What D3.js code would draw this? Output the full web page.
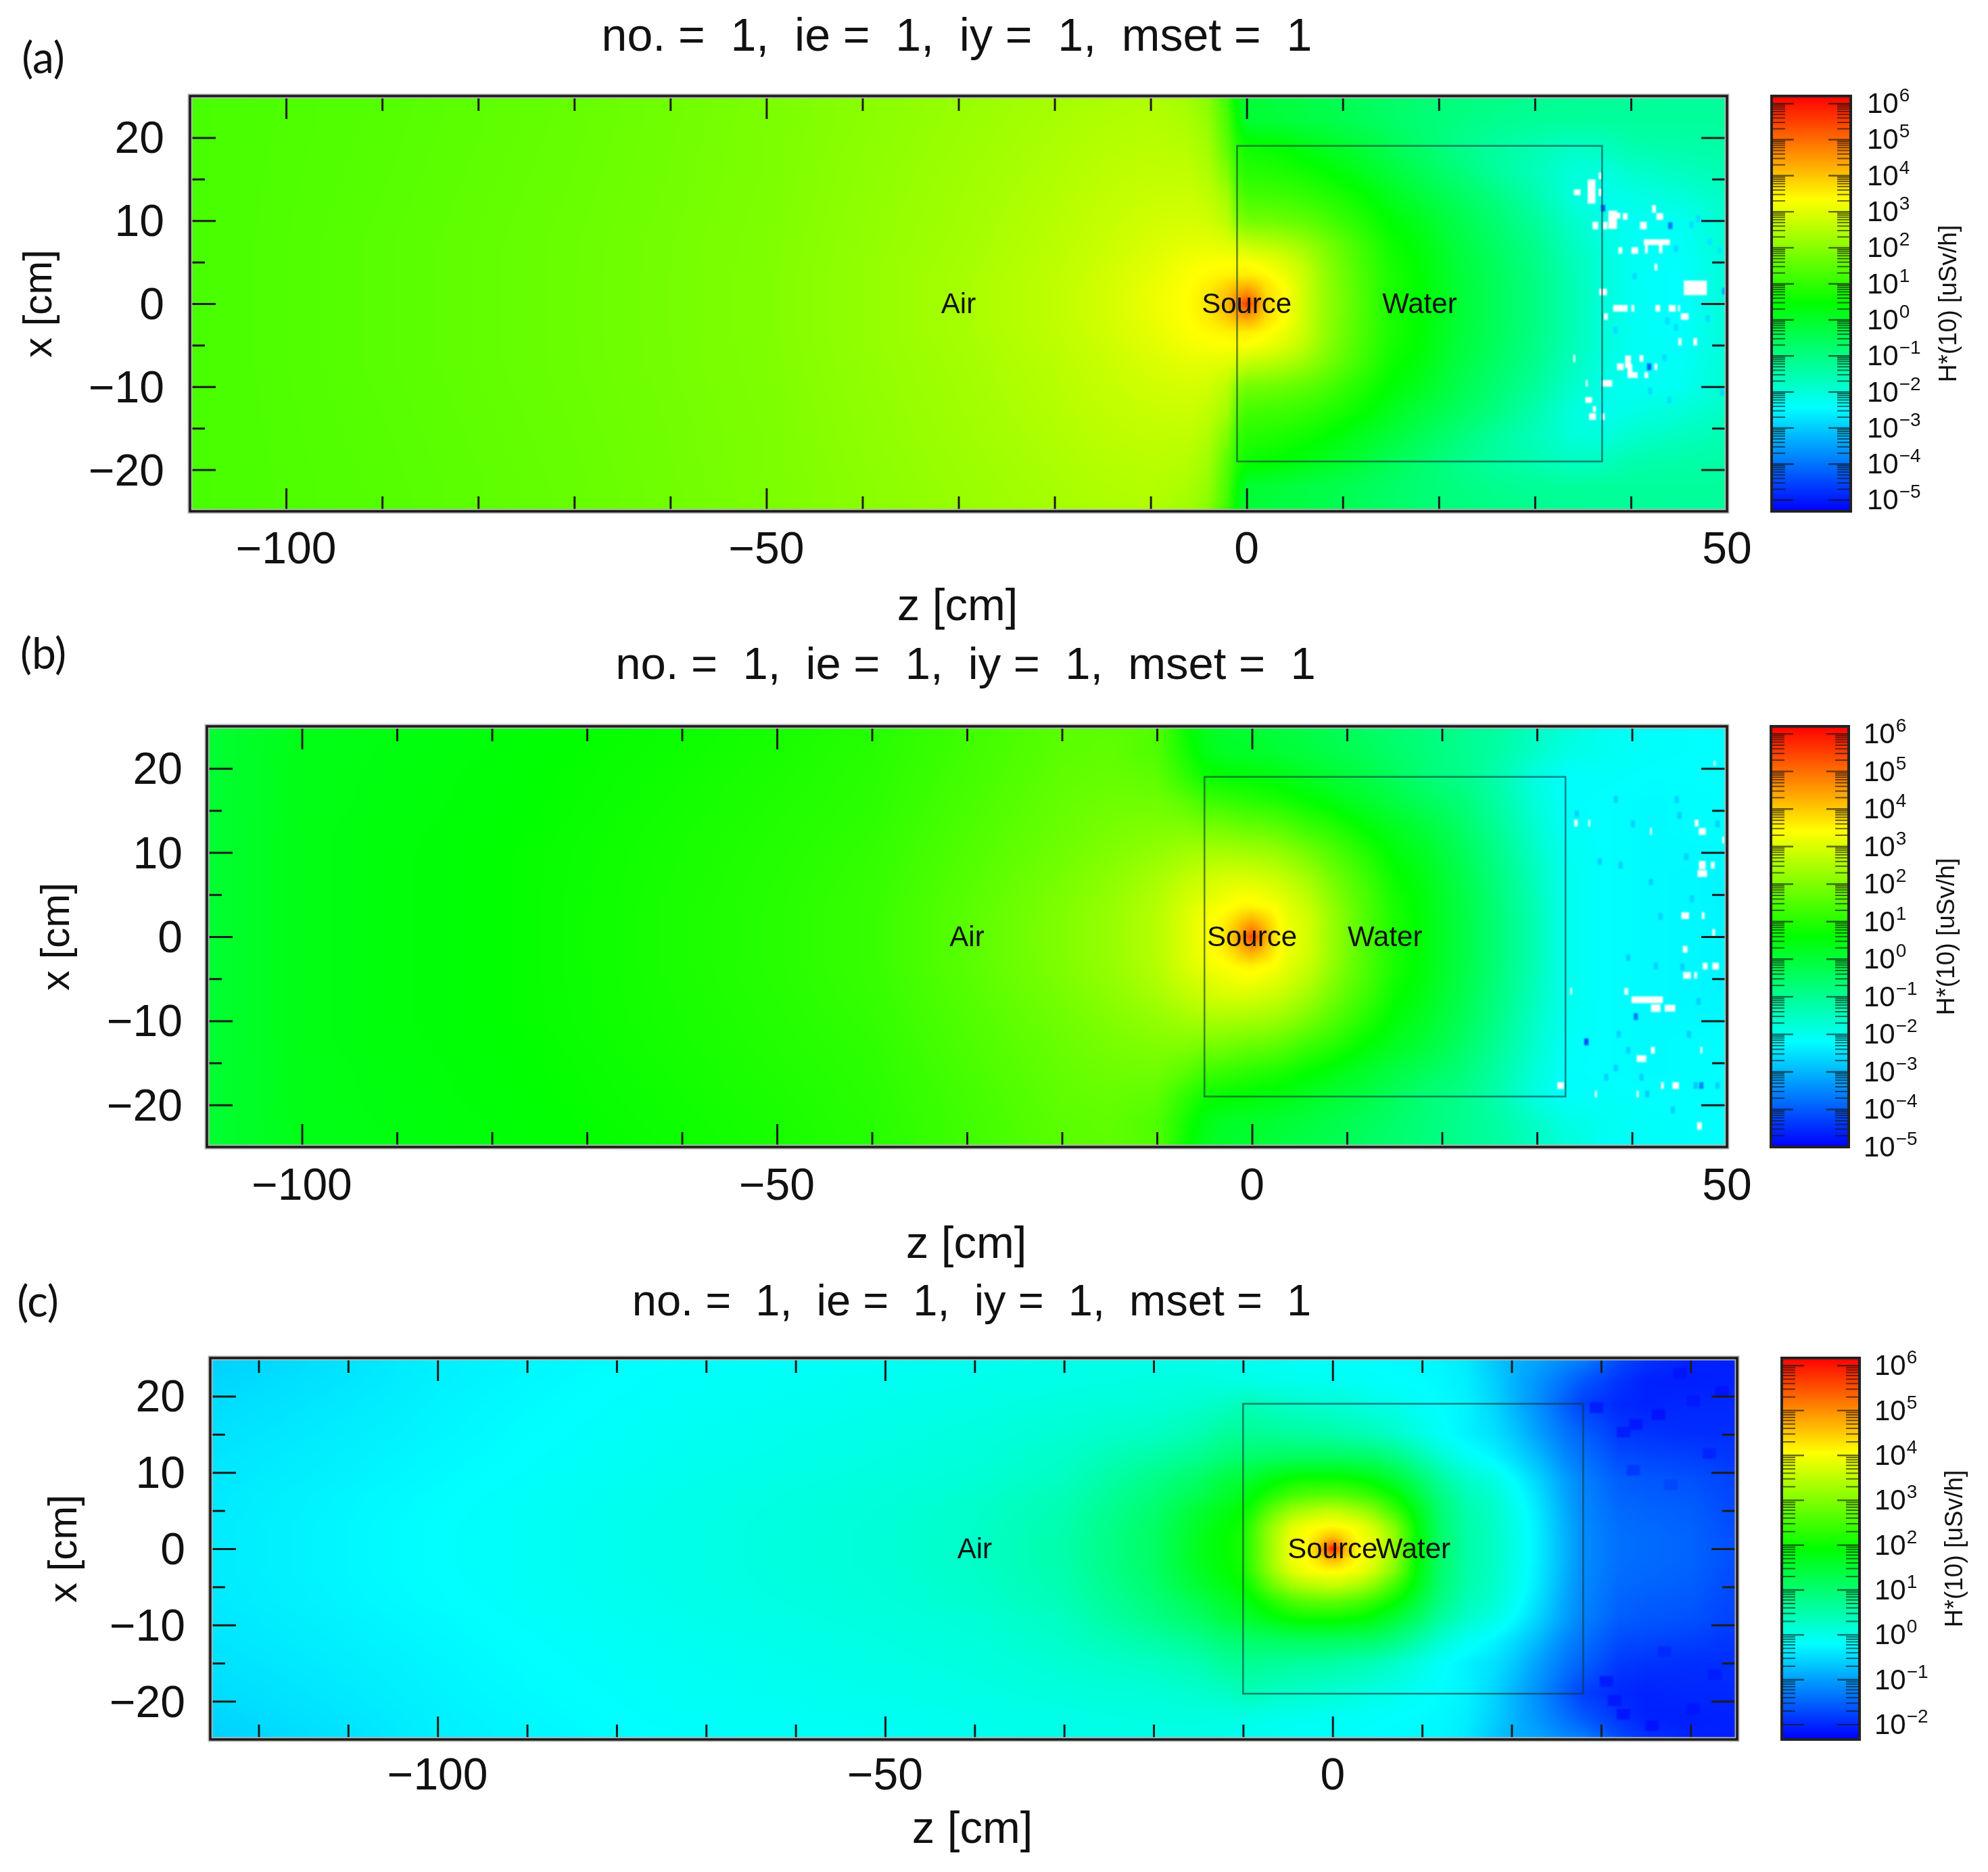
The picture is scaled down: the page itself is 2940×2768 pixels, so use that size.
<!DOCTYPE html>
<html><head><meta charset="utf-8">
<script src="https://cdn.jsdelivr.net/npm/d3@7/dist/d3.min.js"></script>
<style>
html,body{margin:0;padding:0;background:#fff}
#wrap{position:relative;width:2940px;height:2768px;overflow:hidden}
canvas{position:absolute;filter:blur(1px)}
svg{position:absolute;left:0;top:0;filter:blur(.6px)}
text{font-family:"Liberation Sans",Arial,sans-serif;fill:#111}
</style></head><body><div id="wrap"></div>
<script>
// ---------- values: log10 of H*(10) in uSv/h ----------
const xRows = [-25,-22,-19,-16,-13,-10,-7,-5,-3.5,-2,-1,0,1,2,3.5,5,7,10,13,16,19,22,25];
const xRowsC = [-25,-22,-19,-15,-12,-9,-7,-5,-3,-1.5,-0.7,0,0.7,1.5,3,5,7,9,12,15,19,22,25];

// panel (a)
const zA = [-110,-90,-70,-50,-40,-30,-20,-15,-10,-6,-4,-2,-1,0,1,2,4,6,8,10,12,15,18,22,26,30,34,37,40,45,50];
const a0  = [1.25,1.45,1.65,1.89,2.1,2.32,2.6,2.8,3.1,3.36,3.6,4.15,4.7,5.6,4.7,3.8,3.33,2.75,2.18,1.75,1.31,.74,.45,-.13,-.56,-1,-1.57,-2,-2.3,-2.43,-2];
const a1  = [1.25,1.45,1.65,1.89,2.1,2.32,2.6,2.8,3.1,3.35,3.58,4.05,4.45,4.8,4.4,3.75,3.33,2.75,2.18,1.75,1.31,.74,.45,-.13,-.56,-1,-1.57,-2,-2.3,-2.43,-2];
const a2  = [1.25,1.45,1.65,1.89,2.1,2.32,2.6,2.8,3.08,3.33,3.5,3.85,4.1,4.25,4.05,3.65,3.3,2.75,2.15,1.73,1.3,.74,.45,-.13,-.56,-1,-1.57,-2,-2.3,-2.43,-2];
const a35 = [1.25,1.45,1.65,1.89,2.1,2.32,2.58,2.78,3.03,3.3,3.38,3.45,3.5,3.5,3.45,3.38,3.1,2.7,2.12,1.7,1.27,.72,.43,-.15,-.58,-1.02,-1.6,-2,-2.3,-2.43,-2];
const a5  = [1.25,1.45,1.65,1.88,2.1,2.3,2.56,2.75,2.98,3.2,3.28,3.3,3.3,3.3,3.25,3.15,2.9,2.55,2.05,1.63,1.22,.68,.4,-.18,-.6,-1.05,-1.62,-2,-2.3,-2.4,-2];
const a7  = [1.25,1.45,1.65,1.88,2.08,2.28,2.53,2.7,2.9,3.05,3.05,3,2.9,2.7,2.65,2.6,2.45,2.2,1.85,1.5,1.12,.6,.32,-.25,-.68,-1.12,-1.7,-2.05,-2.3,-2.35,-1.95];
const a10 = [1.25,1.44,1.64,1.87,2.07,2.26,2.5,2.65,2.8,2.85,2.8,2.55,1.95,1.75,1.72,1.7,1.62,1.5,1.3,1.05,.8,.42,.12,-.4,-.82,-1.28,-1.85,-2.15,-2.3,-2.3,-1.9];
const a13 = [1.25,1.43,1.63,1.86,2.05,2.24,2.46,2.6,2.7,2.72,2.6,2.25,1.5,1.2,1.18,1.15,1.1,1,.85,.7,.5,.12,-.2,-.6,-1,-1.5,-2.05,-2.25,-2.15,-2,-1.75];
const a16 = [1.25,1.42,1.62,1.85,2.04,2.22,2.42,2.54,2.62,2.6,2.4,1.85,1.1,.85,.82,.8,.72,.62,.48,.3,.1,-.2,-.5,-.9,-1.3,-1.65,-2,-2.05,-1.85,-1.7,-1.55];
const a19 = [1.25,1.41,1.61,1.85,2.02,2.19,2.38,2.48,2.54,2.48,2.25,1.45,.85,.6,.55,.5,.4,.25,.1,-.05,-.2,-.5,-.75,-1.1,-1.35,-1.55,-1.75,-1.7,-1.5,-1.45,-1.4];
const a22 = [1.25,1.4,1.6,1.84,2,2.17,2.34,2.43,2.48,2.36,2.1,1.25,.5,-.1,-.12,-.15,-.2,-.3,-.35,-.42,-.55,-.7,-.85,-1,-1.15,-1.25,-1.3,-1.3,-1.3,-1.3,-1.3];
const a25 = [1.25,1.4,1.6,1.83,2,2.15,2.3,2.38,2.42,2.25,1.95,1.1,.3,-.2,-.2,-.22,-.28,-.35,-.42,-.5,-.58,-.7,-.82,-.95,-1.05,-1.15,-1.2,-1.25,-1.25,-1.28,-1.3];
const fieldA = [a25,a22,a19,a16,a13,a10,a7,a5,a35,a2,a1,a0,a1,a2,a35,a5,a7,a10,a13,a16,a19,a22,a25];
// empty tallies (white): z, x, width in z, height in x
const emptyA = [[34.4,13.4,.7,.7],[35.9,13.5,.8,2.9],[36.8,13.4,.33,.9],[36.8,15.4,.3,.8],[36.3,9.4,.6,.9],[37.3,9.4,.5,.9],[38.1,10.1,.9,2.2],[38.5,10.6,.8,.7],[39.4,10.5,.5,.8],[41.3,9.4,.7,.9],[42.4,11.4,.4,.9],[43,10.5,.7,.8],[42.7,7.4,2.7,.7],[41.6,6.6,.3,1.1],[43.1,6.6,.35,1.1],[38.9,6.4,.4,.8],[40.4,6.4,.7,.8],[42.6,4.4,.3,.8],[46.7,1.9,2.4,1.75],[37.1,1.4,.8,.8],[38.9,-.56,1.5,.8],[40.2,-.56,.3,.8],[42.8,-.56,.5,.8],[44.3,-.56,.7,.8],[45,-.56,.2,.8],[45.6,-1.55,.8,.8],[37.4,-1.55,.4,.8],[45.1,-4.6,.33,.9],[46.7,-4.6,.4,.9],[34.1,-6.6,.2,.9],[41.1,-6.6,.4,.8],[39.7,-7,.6,1.5],[38.9,-7.6,.7,.8],[39.9,-8.1,.5,1.6],[40.2,-8.6,1,.7],[42.6,-7.6,.3,.8],[41.6,-8.6,.4,.7],[37.5,-9.6,1.1,.8],[35.4,-9.6,.2,.8],[35.6,-11.6,.7,.7],[36.2,-12.7,.35,.7],[36,-13.6,.7,.8],[37.1,-13.6,.35,.8]];
// isolated tallies that stand out from their surroundings: z, x, log10 value
const spotsA = [[40.4,3.3,-2.8],[43.8,-2.1,-2.8],[44.7,-2.85,-2.8],[38.4,-3.2,-2.8],[48,-1.8,-2.8],[43.5,-6.5,-2.8],[44,-11.6,-2.8],[42,-10.5,-2.8],[48.2,7.5,-2.7],[49.2,6.4,-2.7],[46.3,9.5,-2.8],[47,10.2,-2.8],[44.7,6.6,-2.8],[49.5,-10.7,-2.9],[37.1,11.5,-4.2],[44.1,9.4,-4],[41.9,-7.6,-4.2],[49.7,1.5,-3.4]];

// panel (b)
const zB = [-110,-100,-80,-60,-50,-40,-30,-20,-15,-10,-7,-5,-3,-2,-1,0,1,2,3,4,6,8,10,12,15,18,22,26,30,33,37,42,50];
const b0  = [.04,.4,.6,.88,1.02,1.2,1.58,2,2.25,2.6,3,3.35,3.62,4.1,4.66,5.5,4.66,3.96,3.4,3.2,2.9,2.36,1.9,1.47,.88,.5,-.1,-.7,-1.4,-2,-2.2,-2.25,-2.3];
const b1  = [.04,.4,.6,.88,1.02,1.2,1.58,2,2.25,2.6,3,3.33,3.58,3.95,4.35,4.75,4.35,3.85,3.38,3.2,2.9,2.36,1.9,1.47,.88,.5,-.1,-.7,-1.4,-2,-2.2,-2.25,-2.3];
const b2  = [.04,.4,.6,.88,1.02,1.2,1.58,2,2.25,2.6,2.98,3.32,3.5,3.75,4.05,4.25,4,3.7,3.35,3.15,2.88,2.35,1.9,1.46,.88,.5,-.1,-.7,-1.4,-2,-2.2,-2.25,-2.3];
const b35 = [.04,.4,.6,.88,1.02,1.2,1.57,1.98,2.22,2.57,2.95,3.22,3.37,3.42,3.5,3.55,3.45,3.4,3.25,3.05,2.75,2.3,1.85,1.42,.85,.48,-.12,-.72,-1.42,-2,-2.2,-2.25,-2.3];
const b5  = [.04,.4,.6,.87,1.01,1.19,1.55,1.95,2.18,2.52,2.85,3,3.2,3.25,3.3,3.3,3.25,3.15,3.05,2.9,2.6,2.15,1.75,1.38,.8,.45,-.15,-.75,-1.45,-2,-2.2,-2.25,-2.3];
const b7  = [.04,.4,.6,.86,1,1.17,1.52,1.9,2.12,2.42,2.68,2.85,2.95,2.97,2.97,2.95,2.9,2.85,2.75,2.62,2.35,1.95,1.6,1.25,.7,.38,-.2,-.8,-1.5,-2,-2.2,-2.25,-2.3];
const b10 = [.04,.4,.6,.85,.98,1.14,1.47,1.82,2,2.2,2.35,2.4,2.42,2.4,2.38,2.35,2.32,2.28,2.2,2.1,1.85,1.55,1.25,.95,.5,.2,-.32,-.9,-1.6,-2.05,-2.2,-2.25,-2.25];
const b13 = [.04,.4,.58,.83,.96,1.1,1.43,1.75,1.9,2,2,1.9,1.85,1.8,1.75,1.7,1.68,1.62,1.55,1.45,1.2,1.05,.8,.55,.25,0,-.5,-1.05,-1.7,-2.1,-2.2,-2.25,-2.2];
const b16 = [.04,.38,.56,.8,.93,1.07,1.38,1.7,1.8,1.82,1.6,1.3,1.2,1.15,1.1,1.05,1,.95,.9,.8,.65,.5,.3,.15,-.1,-.35,-.7,-1.2,-1.8,-2.15,-2.2,-2.25,-2.2];
const b19 = [.04,.38,.55,.78,.9,1.05,1.33,1.65,1.72,1.62,1.1,.75,.65,.6,.57,.55,.5,.47,.42,.35,.22,.1,-.02,-.15,-.4,-.65,-.9,-1.3,-1.9,-2.15,-2.15,-2.2,-2.2];
const b22 = [.04,.37,.53,.75,.87,1.02,1.3,1.6,1.65,1.45,.85,.4,.2,.18,.16,.15,.12,.08,.03,0,-.08,-.18,-.27,-.38,-.55,-.72,-.95,-1.2,-1.6,-1.9,-2.05,-2.15,-2.2];
const b25 = [.04,.35,.5,.72,.85,1,1.28,1.58,1.62,1.5,.7,.3,.12,.1,.07,.04,0,-.03,-.08,-.12,-.2,-.28,-.38,-.48,-.62,-.75,-.95,-1.15,-1.5,-1.75,-2.05,-2.15,-2.2];
const fieldB = [b25,b22,b19,b16,b13,b10,b7,b5,b35,b2,b1,b0,b1,b2,b35,b5,b7,b10,b13,b16,b19,b22,b25];
const emptyB = [[48.7,20.6,.2,.55],[34.1,13.5,.35,.8],[35.5,13.5,.2,.8],[46.8,13.5,.4,.8],[47.4,12.5,.75,.8],[42,12.5,.2,.8],[49.6,11.5,.2,.8],[47.4,8.5,.7,1],[48.5,8.5,.4,.8],[47.4,7.5,1,.8],[45.6,2.5,.8,.8],[47.5,2.5,.3,.8],[48.6,.5,.3,.8],[45.6,-1.5,.5,.8],[47.7,-3.5,.5,.8],[48.8,-3.5,.7,.8],[45.8,-4.6,.8,.8],[46.7,-4.6,.3,.8],[33.6,-6.5,.2,.8],[39.4,-6.5,.4,.8],[41.6,-7.5,3.3,.8],[42.5,-8.5,1,.9],[44,-8.5,1.1,.8],[42.2,-13.5,.4,.8],[41,-14.5,1,.8],[47.3,-13.5,.2,.8],[32.5,-17.7,.7,.8],[43.2,-17.7,.3,.8],[44.6,-17.7,.7,.8],[36.2,-18.7,.2,.8],[40.6,-18.7,.2,.8],[47.1,-22.5,.5,.9]];
const spotsB = [[35.2,-12.5,-4.2],[47.3,-17.7,-3.6],[40.4,-9.5,-3.6],[38.3,16.3,-2.7],[44.7,16.3,-2.7],[34.2,14.6,-2.7],[45,14.4,-2.7],[40.1,13.4,-2.7],[49,13.4,-2.7],[36.6,8.9,-2.7],[38.8,8.5,-2.7],[42,6.5,-2.7],[45.7,9.5,-2.7],[46.3,4.5,-2.7],[43,2.4,-2.7],[42.5,-3.5,-2.7],[45.3,-3.6,-2.7],[39.6,-2.5,-2.7],[47,-7.7,-2.7],[38.6,-11.6,-2.7],[46,-11.6,-2.7],[39.6,-13.5,-2.7],[38.3,-15.6,-2.7],[41,-16.7,-2.7],[37.3,-16.7,-2.7],[41.6,-18.7,-2.7],[46.7,-17.7,-2.8],[49,-17.7,-2.7],[44.3,-20.6,-2.7]];

// panel (c)
const zC = [-125.5,-100,-75,-50,-40,-30,-20,-15,-12,-10,-9,-7,-4.6,-3,-1.5,-.7,0,.7,1.5,3,4.6,7,9.5,12,15,18,20.4,23,26,28,32,35,40,45.5];
const c0  = [-.37,-.2,-.03,.135,.26,.5,1.1,1.67,1.92,2.1,2.45,3.2,3.95,4.05,4.6,5.3,6,5.3,4.6,4.05,3.85,3.1,1.9,1.07,.55,.3,0,-.35,-.84,-1.16,-1.4,-1.44,-1.5,-1.7];
const c07 = [-.37,-.2,-.03,.135,.26,.5,1.1,1.67,1.92,2.1,2.45,3.2,3.95,4.05,4.5,4.9,5.2,4.9,4.5,4.05,3.85,3.1,1.9,1.07,.55,.3,0,-.35,-.84,-1.16,-1.4,-1.44,-1.5,-1.7];
const c15 = [-.37,-.2,-.03,.135,.26,.5,1.1,1.67,1.92,2.1,2.45,3.2,3.92,4.03,4.3,4.5,4.6,4.5,4.3,4,3.8,3.1,1.9,1.07,.55,.3,0,-.35,-.84,-1.16,-1.4,-1.44,-1.5,-1.7];
const c3  = [-.37,-.2,-.03,.13,.25,.48,1.08,1.6,1.87,2.05,2.4,3.1,3.75,3.95,4.02,4.05,4.05,4.05,4,3.9,3.6,2.95,1.85,1.05,.53,.28,-.02,-.37,-.86,-1.17,-1.42,-1.46,-1.52,-1.72];
const c5  = [-.38,-.21,-.04,.12,.23,.45,1,1.5,1.75,1.95,2.1,2.7,3.2,3.35,3.45,3.5,3.5,3.5,3.4,3.25,3,2.4,1.7,.98,.5,.25,-.05,-.4,-.9,-1.2,-1.45,-1.5,-1.55,-1.75];
const c7  = [-.38,-.22,-.05,.1,.2,.4,.9,1.25,1.55,1.7,1.85,2.15,2.5,2.6,2.65,2.65,2.65,2.65,2.6,2.5,2.3,1.95,1.4,.85,.4,.17,-.13,-.47,-.95,-1.22,-1.5,-1.55,-1.6,-1.78];
const c9  = [-.4,-.24,-.07,.07,.15,.32,.8,1.1,1.4,1.5,1.6,1.8,2,2.05,2.05,2.05,2.05,2.05,2,1.95,1.8,1.5,1.1,.65,.25,.05,-.23,-.56,-1,-1.25,-1.55,-1.6,-1.65,-1.8];
const c12 = [-.42,-.26,-.1,.03,.1,.25,.55,.75,.95,1,1.05,1.1,1.15,1.15,1.15,1.15,1.15,1.15,1.12,1.1,1.05,.85,.55,.2,-.1,-.28,-.5,-.78,-1.2,-1.38,-1.7,-1.75,-1.8,-1.9];
const c15r= [-.45,-.28,-.12,0,.06,.17,.3,.45,.65,.68,.7,.68,.62,.6,.58,.56,.55,.52,.5,.45,.4,.25,.05,-.15,-.32,-.45,-.67,-1,-1.35,-1.52,-1.85,-1.9,-1.95,-1.95];
const c19 = [-.5,-.3,-.15,-.05,0,.07,.12,.2,.27,.38,.38,.3,.25,.2,.17,.15,.14,.12,.1,.05,0,-.05,-.15,-.22,-.3,-.55,-.85,-1.15,-1.55,-1.8,-2,-2.05,-2,-2];
const c22 = [-.55,-.32,-.17,-.09,-.05,0,.05,.06,.03,.02,0,-.03,-.06,-.08,-.09,-.1,-.1,-.11,-.12,-.14,-.17,-.2,-.22,-.25,-.35,-.6,-.85,-1.1,-1.4,-1.6,-1.9,-2.05,-2.08,-2.05];
const c25 = [-.6,-.33,-.2,-.12,-.08,-.03,-.03,-.03,-.07,-.1,-.1,-.12,-.15,-.17,-.17,-.18,-.18,-.19,-.19,-.2,-.22,-.24,-.25,-.28,-.38,-.67,-.85,-.95,-1.15,-1.25,-1.7,-1.9,-2.05,-2.08];
const fieldC = [c25,c22,c19,c15r,c12,c9,c7,c5,c3,c15,c07,c0,c07,c15,c3,c5,c7,c9,c12,c15r,c19,c22,c25];
const emptyC = [];
const spotsC = [[32.5,15.3,-2.08],[33.9,16.3,-2.12],[29.5,18.5,-2.08],[40.3,19.4,-2.12],[37.8,8.4,-1.75],[33.6,10.3,-1.85],[31.5,-19.9,-2.12],[32.5,-21.7,-2.15],[35.7,-23.2,-2.18],[40.3,-21,-2.15],[37.1,-13.5,-1.98],[42.1,12.5,-2.02],[36.4,17.6,-2.18],[43.5,20.6,-2.18],[38.8,23,-2.16],[30.6,-17.4,-2.1],[42.7,-16.5,-2.1]];

// colour scale stops (log10 value at blue, cyan, green, yellow, red)
const rainbow = ["#0000ff","#00ffff","#00ff00","#ffff00","#ff0000"];
const stopsA = [-5.31,-2.43,.45,3.33,6.21];
const stopsB = [-5,-2.2,.6,3.4,6.2];
const stopsC = [-2.33,-.205,1.92,4.045,6.17];

// ticks
const xMajorA = [-100,-50,0,50], xMajorC = [-100,-50,0];
const xMinorA = [-110,-90,-80,-70,-60,-40,-30,-20,-10,10,20,30,40];
const xMinorC = [-120,-110,-90,-80,-70,-60,-40,-30,-20,-10,10,20,30,40];
const yMajor = [-20,-10,0,10,20], yMinor = [-15,-5,5,15];
const decadesA = [6,5,4,3,2,1,0,-1,-2,-3,-4,-5];
const decadesC = [6,5,4,3,2,1,0,-1,-2];
const titleText = "no. =  1,  ie =  1,  iy =  1,  mset =  1";
const cbLabel = "H*(10) [uSv/h]";

// ---------- page layout ----------
const panels = [
 {tag:"(a)",tagX:64,tagY:88,L:281,R:2554,T:142,B:756,zDom:[-110,50],zNodes:zA,field:fieldA,rows:xRows,stops:stopsA,empty:emptyA,spots:spotsA,
  box:[-1,37],major:xMajorA,minor:xMinorA,titleX:1415,titleY:52,titleSize:68,tickY:810,ztX:1416,ztY:896,xtX:56,ytRight:243,cb:[2620,2737],dec:decadesA,cbTextX:2761,cbLabelX:2880,air:-30,water:18},
 {tag:"(b)",tagX:64,tagY:969,L:306,R:2554,T:1074,B:1696,zDom:[-110,50],zNodes:zB,field:fieldB,rows:xRows,stops:stopsB,empty:emptyB,spots:spotsB,
  box:[-5,33],major:xMajorA,minor:xMinorA,titleX:1428,titleY:981,titleSize:67,tickY:1751,ztX:1429,ztY:1839,xtX:82,ytRight:270,cb:[2619,2734],dec:decadesA,cbTextX:2756,cbLabelX:2877,air:-30,water:14},
 {tag:"(c)",tagX:56,tagY:1927,L:311,R:2569,T:2008,B:2572,zDom:[-125.4,45.2],zNodes:zC,field:fieldC,rows:xRowsC,stops:stopsC,empty:emptyC,spots:spotsC,
  box:[-10,28],major:xMajorC,minor:xMinorC,titleX:1437,titleY:1922,titleSize:65,tickY:2623,ztX:1438,ztY:2704,xtX:93,ytRight:274,cb:[2635,2750],dec:decadesC,cbTextX:2772,cbLabelX:2889,air:-40,water:9}
];

const wrap = d3.select("#wrap");
const svg = wrap.append("svg").attr("width",2940).attr("height",2768);

function lut(stops){
  const s = d3.scaleLinear().domain(stops).range(rainbow).clamp(true);
  return v => d3.rgb(s(v));
}

panels.forEach(p=>{
  const x = d3.scaleLinear().domain(p.zDom).range([p.L,p.R]);
  const y = d3.scaleLinear().domain([-25,25]).range([p.B,p.T]);
  const W = p.R-p.L, H = p.B-p.T;
  const col = lut(p.stops);
  const N = 2048, v0 = p.stops[0], v1 = p.stops[4];
  const table = d3.range(N).map(i=>col(v0+(v1-v0)*i/(N-1)));
  const zi = d3.scaleLinear().domain(p.zNodes).range(d3.range(p.zNodes.length)).clamp(true);
  const xi = d3.scaleLinear().domain(p.rows).range(d3.range(p.rows.length)).clamp(true);

  const cv = wrap.insert("canvas","svg").attr("width",W).attr("height",H)
     .style("left",p.L+"px").style("top",p.T+"px");
  const ctx = cv.node().getContext("2d");
  const img = ctx.createImageData(W,H);
  const rowsBelow = p.zNodes.length-1, colsBelow = p.rows.length-1;
  for(let j=0;j<H;j++){
    const fy = xi(y.invert(p.T+j+.5));
    const r0 = Math.min(Math.floor(fy),colsBelow-1), ty = fy-r0;
    for(let i=0;i<W;i++){
      const fx = zi(x.invert(p.L+i+.5));
      const c0_ = Math.min(Math.floor(fx),rowsBelow-1), tx = fx-c0_;
      const f=p.field;
      const v=(f[r0][c0_]*(1-tx)+f[r0][c0_+1]*tx)*(1-ty)+(f[r0+1][c0_]*(1-tx)+f[r0+1][c0_+1]*tx)*ty;
      const k=Math.max(0,Math.min(N-1,Math.round((v-v0)/(v1-v0)*(N-1))));
      const c=table[k], o=(j*W+i)*4;
      img.data[o]=c.r;img.data[o+1]=c.g;img.data[o+2]=c.b;img.data[o+3]=255;
    }
  }
  ctx.putImageData(img,0,0);
  // isolated tallies and empty tallies, placed with the same scales
  const isC = p===panels[2];
  const dz = isC?1.5:.45, dxx=isC?1.4:.8;
  p.spots.forEach(s=>{
    const c=col(s[2]); ctx.fillStyle=`rgb(${c.r},${c.g},${c.b})`;
    ctx.fillRect(x(s[0]-dz/2)-p.L,y(s[1]+dxx/2)-p.T,x(s[0]+dz/2)-x(s[0]-dz/2),y(s[1]-dxx/2)-y(s[1]+dxx/2));
  });
  ctx.fillStyle="#fff";
  p.empty.forEach(s=>{
    ctx.fillRect(x(s[0]-s[2]/2)-p.L,y(s[1]+s[3]/2)-p.T,x(s[0]+s[2]/2)-x(s[0]-s[2]/2),y(s[1]-s[3]/2)-y(s[1]+s[3]/2));
  });

  const g = svg.append("g");
  g.append("rect").attr("x",x(p.box[0])).attr("y",y(19)).attr("width",x(p.box[1])-x(p.box[0])).attr("height",y(-19)-y(19))
    .attr("fill","none").attr("stroke","#0a3a3a").attr("stroke-opacity",.6).attr("stroke-width",2.6);

  // axes: d3 axes with inward ticks on all four sides
  const tick = (sel)=>sel.attr("stroke","#1c1c1c").attr("stroke-width",3);
  const mk = (axis,tx,ty)=>{const a=g.append("g").attr("transform",`translate(${tx},${ty})`).call(axis);a.select(".domain").remove();a.selectAll("text").remove();tick(a.selectAll("line"));return a;};
  const inZ = v=>v>p.zDom[0]&&v<p.zDom[1];
  const maj=p.major.filter(v=>v<50), mi=p.minor;
  mk(d3.axisBottom(x).tickValues(maj).tickSize(-34),0,p.B);
  mk(d3.axisBottom(x).tickValues(mi.filter(inZ)).tickSize(-22),0,p.B);
  mk(d3.axisTop(x).tickValues(maj).tickSize(-34),0,p.T);
  mk(d3.axisTop(x).tickValues(mi.filter(inZ)).tickSize(-22),0,p.T);
  mk(d3.axisLeft(y).tickValues(yMajor).tickSize(-38),p.L,0);
  mk(d3.axisLeft(y).tickValues(yMinor).tickSize(-22),p.L,0);
  mk(d3.axisRight(y).tickValues(yMajor).tickSize(-38),p.R,0);
  mk(d3.axisRight(y).tickValues(yMinor).tickSize(-22),p.R,0);

  g.append("rect").attr("x",p.L).attr("y",p.T).attr("width",W).attr("height",H)
    .attr("fill","none").attr("stroke","#b5b5b5").attr("stroke-width",7);
  g.append("rect").attr("x",p.L).attr("y",p.T).attr("width",W).attr("height",H)
    .attr("fill","none").attr("stroke","#1a1a1a").attr("stroke-width",3.5);

  // tick labels
  const fmt = d3.format("d");
  g.selectAll(null).data(p.major).join("text").attr("x",d=>x(d)).attr("y",p.tickY+23).attr("text-anchor","middle")
    .attr("font-size",66).text(d=>fmt(d));
  g.selectAll(null).data(yMajor).join("text").attr("x",p.ytRight).attr("y",d=>y(d)+23).attr("text-anchor","end")
    .attr("font-size",66).text(d=>fmt(d));

  // titles
  g.append("text").attr("x",p.titleX).attr("y",p.titleY+23).attr("text-anchor","middle").attr("font-size",p.titleSize)
    .attr("xml:space","preserve").style("white-space","pre").text(titleText);
  g.append("text").attr("x",p.ztX).attr("y",p.ztY+21).attr("text-anchor","middle").attr("font-size",67).text("z [cm]");
  g.append("text").attr("transform",`translate(${p.xtX+20},${y(0)}) rotate(-90)`).attr("text-anchor","middle").attr("font-size",60).text("x [cm]");
  g.append("text").attr("x",p.tagX).attr("y",p.tagY+20).attr("text-anchor","middle").attr("font-size",64)
    .style("font-family","Lato").text(p.tag);

  // region labels
  [["Air",p.air],["Source",0],["Water",p.water]].forEach(d=>{
    g.append("text").attr("x",x(d[1])).attr("y",y(0)+14).attr("text-anchor","middle").attr("font-size",42).text(d[0]);
  });

  // colour bar
  const c = d3.scaleLinear().domain([v0,v1]).range([p.B,p.T]);
  const cols = d3.range(v0,v1,(v1-v0)/H);
  g.selectAll(null).data(cols).join("rect").attr("x",p.cb[0]).attr("width",p.cb[1]-p.cb[0])
    .attr("y",d=>c(d)-1.2).attr("height",1.6).attr("fill",d=>{const k=col(d);return `rgb(${k.r},${k.g},${k.b})`;})
    .attr("shape-rendering","crispEdges");
  const minorVals = [];
  p.dec.forEach(m=>[2,3,4,5,6,7,8,9].forEach(k=>{
    const v=m+Math.log10(k); if(v<v1&&v>v0) minorVals.push(v);
  }));
  const cbTick=(vals,len,sw)=>{
    [[p.cb[0],1],[p.cb[1],-1]].forEach(([xx,s])=>{
      g.selectAll(null).data(vals).join("line").attr("x1",xx).attr("x2",xx+s*len).attr("y1",d=>c(d)).attr("y2",d=>c(d))
       .attr("stroke","#111").attr("stroke-opacity",.62).attr("stroke-width",sw);
    });
  };
  cbTick(p.dec,33,2.4);
  cbTick(minorVals,20,2);
  g.append("rect").attr("x",p.cb[0]).attr("y",p.T).attr("width",p.cb[1]-p.cb[0]).attr("height",H)
    .attr("fill","none").attr("stroke","#222").attr("stroke-width",4);
  const lab = g.selectAll(null).data(p.dec).join("text").attr("x",p.cbTextX).attr("y",d=>c(d)+14).attr("font-size",42).attr("fill","#333");
  lab.append("tspan").text("10");
  lab.append("tspan").attr("dy",-17).attr("dx",1).attr("font-size",28).text(d=>d<0?"\u2212"+(-d):d);
  g.append("text").attr("transform",`translate(${p.cbLabelX+13},${y(0)}) rotate(-90)`).attr("text-anchor","middle").attr("font-size",37).attr("fill","#333").text(cbLabel);
});
</script></body></html>
